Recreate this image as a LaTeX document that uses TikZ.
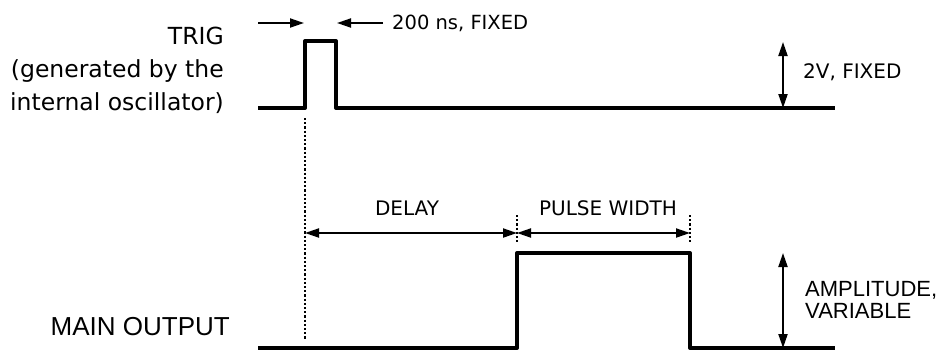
\documentclass[tikz,border=0pt]{standalone}
\usepackage{fontspec}
\setmainfont{DejaVu Sans}
\newfontfamily\arialfont{Liberation Sans}
\usetikzlibrary{arrows.meta}
\begin{document}
\begin{tikzpicture}[x=1pt,y=-1pt,
  trace/.style={line width=4pt, line join=round},
  tip/.tip={Triangle[length=14pt,width=9pt]},
  dimone/.style={line width=2pt, -tip},
  dimboth/.style={line width=2pt, tip-tip},
  guide/.style={line width=2.2pt, dash pattern=on 2.2pt off 2pt},
  lbl/.style={inner sep=0pt},
  big/.style={font=\fontsize{23.5}{33}\selectfont},
  mid/.style={font=\fontsize{20}{24}\selectfont},
  ari/.style={font=\arialfont\fontsize{22}{22.5}\selectfont}]
\useasboundingbox (0,0) rectangle (939,360);

% TRIG trace
\coordinate (t0) at (258,108);
\coordinate (t1) at (305,108);
\coordinate (t2) at (305,41);
\coordinate (t3) at (336,41);
\coordinate (t4) at (336,108);
\coordinate (t5) at (835,108);
\draw[trace] (t0) -- (t1) -- (t2) -- (t3) -- (t4) -- (t5);

% MAIN OUTPUT trace
\coordinate (m0) at (258,348);
\coordinate (m1) at (517,348);
\coordinate (m2) at (517,253);
\coordinate (m3) at (690,253);
\coordinate (m4) at (690,348);
\coordinate (m5) at (835,348);
\draw[trace] (m0) -- (m1) -- (m2) -- (m3) -- (m4) -- (m5);

% guides
\coordinate (g0) at (305,118);
\coordinate (g1) at (305,340);
\draw[guide] (g0) -- (g1);
\coordinate (k0) at (517,215);
\coordinate (k1) at (517,242);
\draw[guide] (k0) -- (k1);
\coordinate (p0) at (690,215);
\coordinate (p1) at (690,242);
\draw[guide] (p0) -- (p1);

% delay / pulse width
\coordinate (d0) at (305,233);
\coordinate (d1) at (517,233);
\coordinate (d2) at (690,233);
\draw[dimboth] (d0) -- (d1);
\draw[dimboth] (d1) -- (d2);
\node[lbl,mid] (delay) at (407,208) {DELAY};
\node[lbl,mid] (pw) at (608,208) {PULSE WIDTH};

% 200 ns arrows
\coordinate (a0) at (258,23);
\coordinate (a1) at (304,23);
\coordinate (b0) at (383,23);
\coordinate (b1) at (337,23);
\draw[dimone] (a0) -- (a1);
\draw[dimone] (b0) -- (b1);
\node[lbl,anchor=west,font=\fontsize{19.5}{24}\selectfont] (fixed) at (392,23) {200 ns, FIXED};

% 2V
\coordinate (v0) at (783,42);
\coordinate (v1) at (783,108);
\draw[dimboth] (v0) -- (v1);
\node[lbl,mid,anchor=west] (twov) at (803,72) {2V, FIXED};

% amplitude
\coordinate (u0) at (783,253);
\coordinate (u1) at (783,348);
\draw[dimboth] (u0) -- (u1);
\node[lbl,ari,anchor=west,align=left] (amp) at (805,300) {AMPLITUDE,\\VARIABLE};

% left labels
\node[lbl,big,anchor=east,align=right] (trig) at (224,70) {TRIG\\(generated by the\\internal oscillator)};
\node[lbl,anchor=east,font=\arialfont\fontsize{26}{30}\selectfont] (main) at (230,327) {MAIN OUTPUT};
\end{tikzpicture}
\end{document}
